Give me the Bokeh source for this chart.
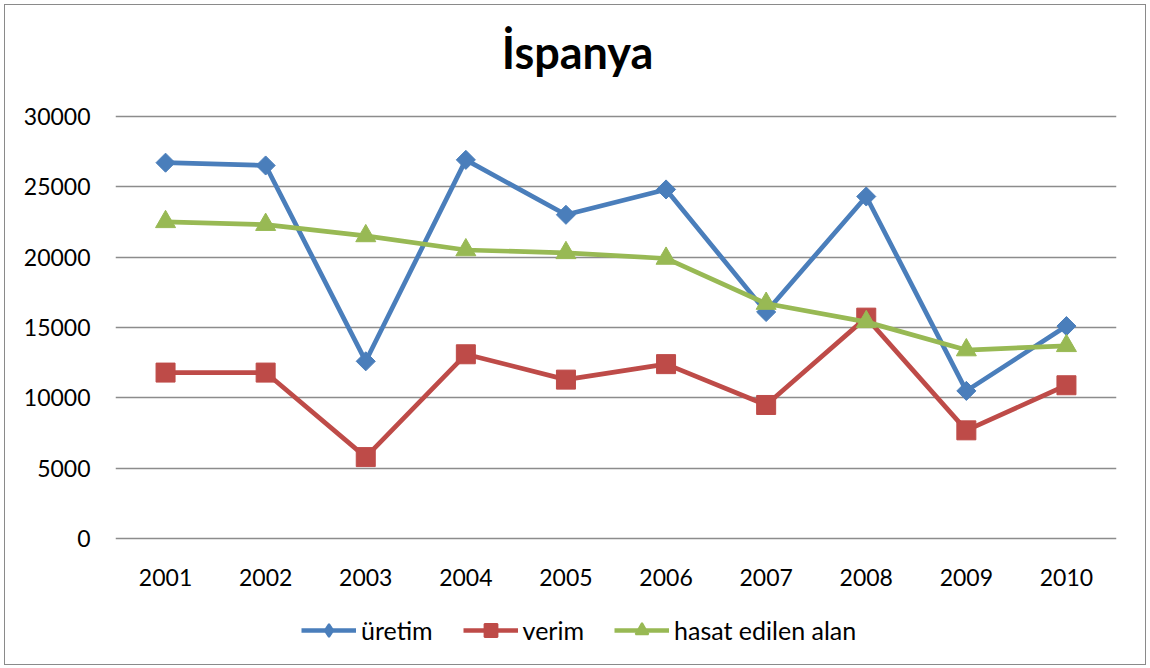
import numpy as np
from bokeh.plotting import figure
from bokeh.layouts import column
from bokeh.models import (FactorRange, Range1d, FixedTicker, Label, Legend,
                          LegendItem)
from bokeh.embed import file_html
from bokeh.resources import INLINE

# ---- data ----
years = ["2001", "2002", "2003", "2004", "2005", "2006", "2007", "2008", "2009", "2010"]
uretim = [26700, 26500, 12600, 26900, 23000, 24800, 16100, 24300, 10500, 15100]
verim = [11800, 11800, 5800, 13100, 11300, 12400, 9500, 15700, 7700, 10900]
hasat = [22500, 22300, 21500, 20500, 20300, 19900, 16700, 15400, 13400, 13700]
series_names = ["üretim", "verim", "hasat edilen alan"]
title_text = "İspanya"
y_ticks = [0, 5000, 10000, 15000, 20000, 25000, 30000]

FONT = "Lato"
BLUE = "#4A7EBB"
RED = "#BE4B48"
GREEN = "#98B954"
GRID = "#8C8C8C"
W = 1140
TITLE_H, MAIN_H, LEG_H = 80, 520, 59


def bare(h, x_range, y_range):
    f = figure(width=W, height=h, x_range=x_range, y_range=y_range,
               x_axis_type=None, y_axis_type=None, output_backend="svg",
               toolbar_location=None, min_border=0, frame_align=False)
    f.outline_line_color = None
    f.grid.visible = False
    f.background_fill_color = "white"
    f.border_fill_color = "white"
    return f


# ---- title strip ----
t = bare(TITLE_H, Range1d(0, W), Range1d(0, TITLE_H))
t.add_layout(Label(x=572, y=34, text=title_text, text_font=FONT,
                   text_font_style="bold", text_font_size="45px",
                   text_align="center", text_baseline="middle",
                   text_color="#000000"))

# ---- main chart ----
p = figure(width=W, height=MAIN_H,
           x_range=FactorRange(*years), y_range=Range1d(-120, 30120),
           output_backend="svg", toolbar_location=None, frame_align=False,
           min_border_left=110, min_border_right=29,
           min_border_top=29, min_border_bottom=65)
p.outline_line_color = None
p.background_fill_color = "white"
p.border_fill_color = "white"
p.yaxis.ticker = FixedTicker(ticks=y_ticks)
for ax in (p.xaxis[0], p.yaxis[0]):
    ax.axis_line_color = None
    ax.major_tick_line_color = None
    ax.minor_tick_line_color = None
    ax.major_tick_out = 0
    ax.major_tick_in = 0
    ax.minor_tick_out = 0
    ax.minor_tick_in = 0
    ax.major_label_text_font = FONT
    ax.major_label_text_font_size = "23px"
    ax.major_label_text_color = "#000000"
p.yaxis.major_label_standoff = 25
p.xaxis.major_label_standoff = 28
p.xgrid.grid_line_color = None
p.ygrid.grid_line_color = GRID
p.ygrid.grid_line_width = 1.6

series = [uretim, verim, hasat]
styles = [(BLUE, "square", np.pi / 4, 13.5),
          (RED, "square", 0, 19),
          (GREEN, "triangle", 0, 20)]
for vals, (col, mk, ang, sz) in zip(series, styles):
    p.line(years, vals, line_color=col, line_width=4.7)
    p.scatter(years, vals, marker=mk, angle=ang, size=sz,
              fill_color=col, line_color=col)

# ---- legend strip (series drawn out of view; only the legend shows) ----
lg = bare(LEG_H, FactorRange(*years), Range1d(100000, 110000))
legend_markers = ["diamond", "square", "triangle"]
items = []
for name, vals, mk, (col, _, _, sz) in zip(series_names, series, legend_markers, styles):
    rl = lg.line(years, vals, line_color=col, line_width=4.7)
    rs = lg.scatter(years, vals, marker=mk, size=sz,
                    fill_color=col, line_color=col, line_width=2)
    items.append(LegendItem(label=name, renderers=[rl, rs]))
legend = Legend(items=items, location=(296, 18), orientation="horizontal",
                glyph_width=55, glyph_height=32, label_standoff=5, spacing=30,
                padding=0, margin=0, border_line_color=None,
                background_fill_alpha=0,
                label_text_font=FONT, label_text_font_size="25px",
                label_text_color="#000000")
lg.add_layout(legend)

layout = column(t, p, lg, spacing=0)
layout.styles = {"border": "1px solid #8a8a8a", "margin": "4px 0 0 4px"}

open("out.html", "w").write(file_html(layout, INLINE))
